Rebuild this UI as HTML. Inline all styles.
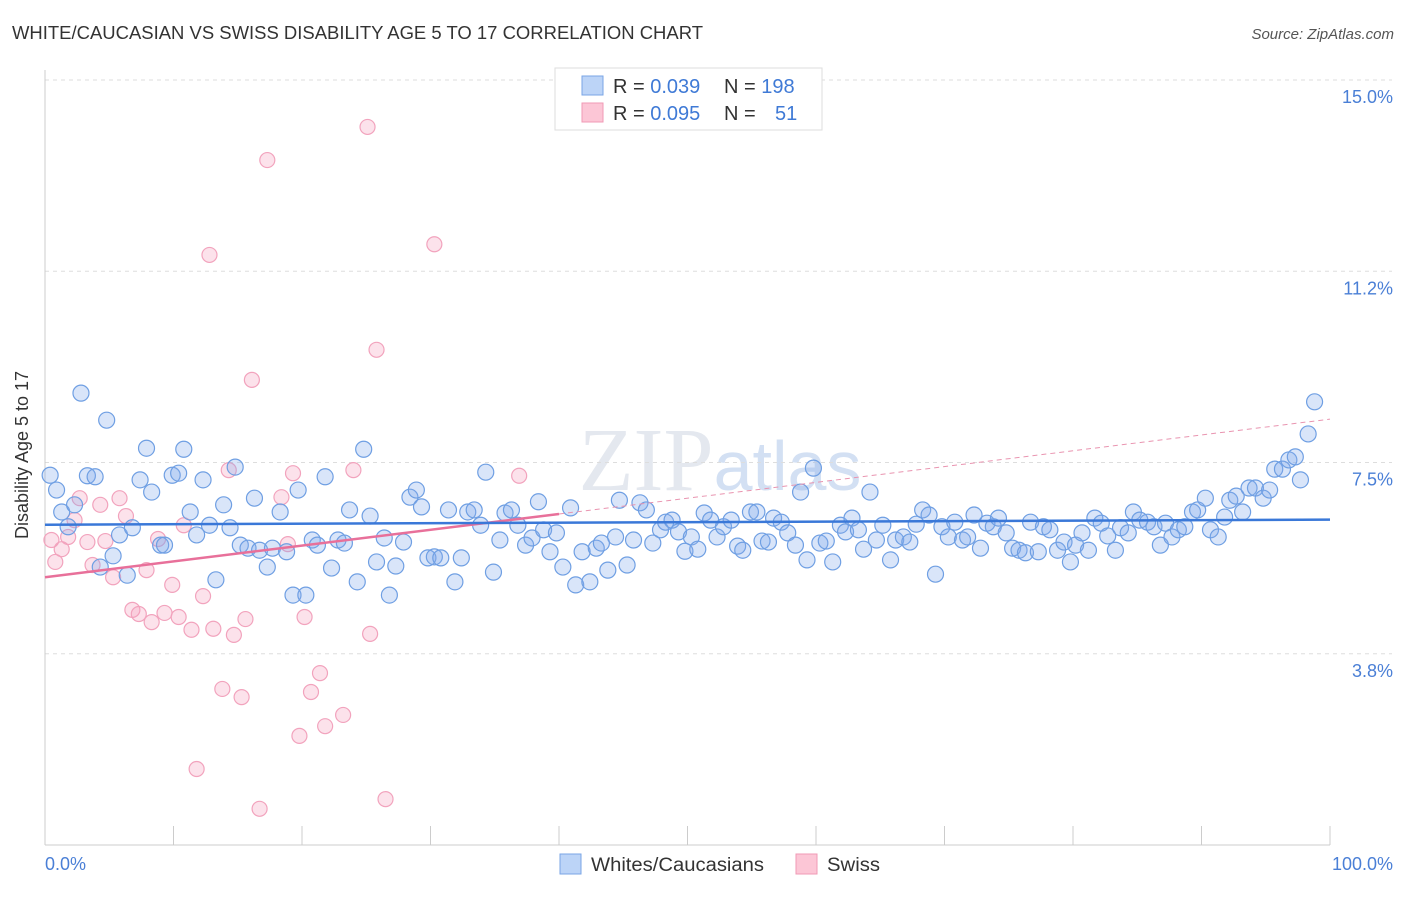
<!DOCTYPE html>
<html><head><meta charset="utf-8"><style>
body{margin:0;background:#fff;font-family:"Liberation Sans",sans-serif}
</style></head><body>
<svg id="c" width="1406" height="892" xmlns="http://www.w3.org/2000/svg" style="font-family:'Liberation Sans',sans-serif">
<text x="12" y="39" font-size="18" fill="#333" textLength="691" lengthAdjust="spacingAndGlyphs">WHITE/CAUCASIAN VS SWISS DISABILITY AGE 5 TO 17 CORRELATION CHART</text>
<text x="1394" y="39" font-size="15" fill="#555" font-style="italic" text-anchor="end">Source: ZipAtlas.com</text>
<text x="720" y="490" font-size="90" fill="#e4e8ef" text-anchor="middle" font-family="Liberation Serif">ZIP<tspan fill="#d3e0f3" font-family="Liberation Sans" font-size="70">atlas</tspan></text>
<g id="grid"></g>
<line x1="45" y1="70" x2="45" y2="845" stroke="#ccc"/>
<line x1="45" y1="845" x2="1330" y2="845" stroke="#ccc"/>
<g id="xt"></g>
<text x="28" y="455" font-size="18" fill="#333" text-anchor="middle" transform="rotate(-90 28 455)">Disability Age 5 to 17</text>
<text x="45" y="870" font-size="18" fill="#4a7fd6">0.0%</text>
<text x="1393" y="870" font-size="18" fill="#4a7fd6" text-anchor="end">100.0%</text>
<g id="pts"></g>
<g id="trend"></g>
<g>
<rect x="555" y="68" width="267" height="62" fill="#fff" stroke="#ddd"/>
<rect x="582" y="76" width="21" height="19" fill="#bcd4f7" stroke="#7aa5e6"/>
<rect x="582" y="103" width="21" height="19" fill="#fcc6d6" stroke="#f09ab5"/>
<text x="613" y="93" font-size="20" fill="#333">R = <tspan fill="#3f7ad6">0.039</tspan></text>
<text x="724" y="93" font-size="20" fill="#333">N = <tspan fill="#3f7ad6">198</tspan></text>
<text x="613" y="120" font-size="20" fill="#333">R = <tspan fill="#3f7ad6">0.095</tspan></text>
<text x="724" y="120" font-size="20" fill="#333">N = <tspan fill="#3f7ad6" x="775">51</tspan></text>
</g>
<g>
<rect x="560" y="854" width="21" height="20" fill="#bcd4f7" stroke="#7aa5e6"/>
<text x="591" y="871" font-size="19" fill="#333" textLength="173" lengthAdjust="spacingAndGlyphs">Whites/Caucasians</text>
<rect x="796" y="854" width="21" height="20" fill="#fcc6d6" stroke="#f09ab5"/>
<text x="827" y="871" font-size="19" fill="#333" textLength="53" lengthAdjust="spacingAndGlyphs">Swiss</text>
</g>
</svg>
<script>
const yTicks=[3.75,7.5,11.25,15];
const yTickLabels=["3.8%","7.5%","11.2%","15.0%"];
const blueX=[0.4,0.9,1.3,1.8,2.3,2.8,3.3,3.9,4.3,4.8,5.3,5.8,6.4,6.8,7.4,7.9,8.3,9.0,9.3,9.9,10.4,10.8,11.3,11.8,12.3,12.8,13.3,13.9,14.4,14.8,15.2,15.8,16.3,16.7,17.3,17.7,18.3,18.8,19.3,19.7,20.3,20.8,21.2,21.8,22.3,22.8,23.3,23.7,24.3,24.8,25.3,25.8,26.4,26.8,27.3,27.9,28.4,28.9,29.3,29.8,30.3,30.8,31.4,31.9,32.4,32.9,33.4,33.9,34.3,34.9,35.4,35.8,36.3,36.8,37.4,37.9,38.4,38.8,39.3,39.8,40.3,40.9,41.3,41.8,42.4,42.9,43.3,43.8,44.4,44.7,45.3,45.8,46.3,46.8,47.3,47.9,48.3,48.8,49.3,49.8,50.3,50.8,51.3,51.8,52.3,52.8,53.4,53.9,54.3,54.9,55.4,55.8,56.3,56.7,57.3,57.8,58.4,58.8,59.3,59.8,60.3,60.8,61.3,61.9,62.3,62.8,63.3,63.7,64.2,64.7,65.2,65.8,66.2,66.8,67.3,67.8,68.3,68.8,69.3,69.8,70.3,70.8,71.4,71.8,72.3,72.8,73.3,73.8,74.2,74.8,75.3,75.8,76.3,76.7,77.3,77.7,78.2,78.8,79.3,79.8,80.2,80.7,81.2,81.7,82.2,82.7,83.3,83.7,84.3,84.7,85.2,85.8,86.3,86.8,87.2,87.7,88.2,88.7,89.3,89.7,90.3,90.7,91.3,91.8,92.2,92.7,93.2,93.7,94.2,94.8,95.3,95.7,96.3,96.8,97.3,97.7,98.3,98.8];
const blueY=[7.25,6.96,6.53,6.24,6.67,8.86,7.24,7.22,5.45,8.33,5.67,6.08,5.29,6.22,7.16,7.78,6.92,5.88,5.88,7.25,7.29,7.76,6.53,6.08,7.16,6.27,5.2,6.67,6.22,7.41,5.88,5.82,6.8,5.78,5.45,5.82,6.53,5.75,4.9,6.96,4.9,5.98,5.88,7.22,5.43,5.98,5.92,6.57,5.16,7.76,6.45,5.55,6.02,4.9,5.47,5.94,6.82,6.96,6.63,5.63,5.65,5.63,6.57,5.16,5.63,6.53,6.57,6.27,7.31,5.35,5.98,6.51,6.57,6.27,5.88,6.02,6.73,6.18,5.75,6.12,5.45,6.61,5.1,5.75,5.16,5.82,5.92,5.39,6.04,6.76,5.49,5.98,6.71,6.57,5.92,6.18,6.33,6.37,6.14,5.76,6.04,5.8,6.51,6.37,6.04,6.24,6.37,5.86,5.78,6.53,6.53,5.96,5.94,6.41,6.33,6.12,5.88,6.92,5.59,7.39,5.92,5.96,5.55,6.27,6.14,6.41,6.18,5.8,6.92,5.98,6.27,5.59,5.98,6.04,5.94,6.29,6.57,6.47,5.31,6.24,6.04,6.33,5.98,6.04,6.47,5.82,6.31,6.24,6.41,6.12,5.82,5.78,5.73,6.33,5.75,6.24,6.18,5.78,5.94,5.55,5.88,6.12,5.78,6.41,6.31,6.06,5.78,6.22,6.12,6.53,6.37,6.33,6.24,5.88,6.31,6.04,6.18,6.24,6.53,6.57,6.8,6.18,6.04,6.43,6.76,6.84,6.53,7.0,7.0,6.8,6.96,7.37,7.37,7.55,7.61,7.16,8.06,8.69];
const pinkX=[0.5,0.8,1.3,1.8,2.3,2.7,3.3,3.7,4.3,4.7,5.3,5.8,6.3,6.8,7.3,7.9,8.3,8.8,9.3,9.9,10.4,10.8,11.4,11.8,12.3,12.8,13.1,13.8,14.3,14.7,15.3,15.6,16.1,16.7,17.3,18.4,18.9,19.3,19.8,20.2,20.7,21.4,21.8,23.2,24.0,25.1,25.3,25.8,26.5,30.3,36.9];
const pinkY=[5.98,5.55,5.8,6.04,6.37,6.8,5.94,5.49,6.67,5.96,5.25,6.8,6.45,4.61,4.53,5.39,4.37,6.0,4.55,5.1,4.47,6.27,4.22,1.49,4.88,11.57,4.24,3.06,7.35,4.12,2.9,4.43,9.12,0.71,13.43,6.82,5.9,7.29,2.14,4.47,3.0,3.37,2.33,2.55,7.35,14.08,4.14,9.71,0.9,11.78,7.24];
const blueTrend=[6.28,6.38];
const pinkTrend=[5.25,8.35];
const X=v=>45+v*12.85, Y=v=>845-v*51;
const NS="http://www.w3.org/2000/svg";
function mk(t,a,p){const e=document.createElementNS(NS,t);for(const k in a)e.setAttribute(k,a[k]);p.appendChild(e);return e;}
const grid=document.getElementById('grid');
yTicks.forEach((t,i)=>{
 const l=mk('line',{x1:45,x2:1392,y1:Y(t),y2:Y(t),stroke:'#ddd','stroke-dasharray':'4,4'},grid);
 
 
 const tx=mk('text',{x:1393,y:Y(t)+23,'font-size':18,fill:'#4a7fd6','text-anchor':'end'},grid);
 tx.textContent=yTickLabels[i];
 
 
});
const xt=document.getElementById('xt');
for(let i=0;i<=10;i++){const l=mk('line',{x1:X(i*10),x2:X(i*10),y1:826,y2:845,stroke:'#ccc'},xt);
 
 }
const pts=document.getElementById('pts');
pinkX.forEach((x,i)=>{const c=mk('circle',{cx:X(x),cy:Y(pinkY[i]),r:7.5,fill:'rgba(246,160,190,0.3)',stroke:'#f2a3bd','stroke-width':1.2},pts);
 
 });
blueX.forEach((x,i)=>{const c=mk('circle',{cx:X(x),cy:Y(blueY[i]),r:8,fill:'rgba(130,170,235,0.3)',stroke:'#6f9fe3','stroke-width':1.2},pts);
 
 });
const tr=document.getElementById('trend');
const pm=v=>pinkTrend[0]+(pinkTrend[1]-pinkTrend[0])*v/100;
const d=mk('line',{x1:X(40),y1:Y(pm(40)),x2:X(100),y2:Y(pm(100)),stroke:'#e994b0','stroke-dasharray':'5,4','stroke-width':1},tr);


const p=mk('line',{x1:X(0),y1:Y(pm(0)),x2:X(40),y2:Y(pm(40)),stroke:'#e8709a','stroke-width':2.5},tr);


const b=mk('line',{x1:X(0),y1:Y(blueTrend[0]),x2:X(100),y2:Y(blueTrend[1]),stroke:'#3a78d8','stroke-width':2.5},tr);


</script>
</body></html>
